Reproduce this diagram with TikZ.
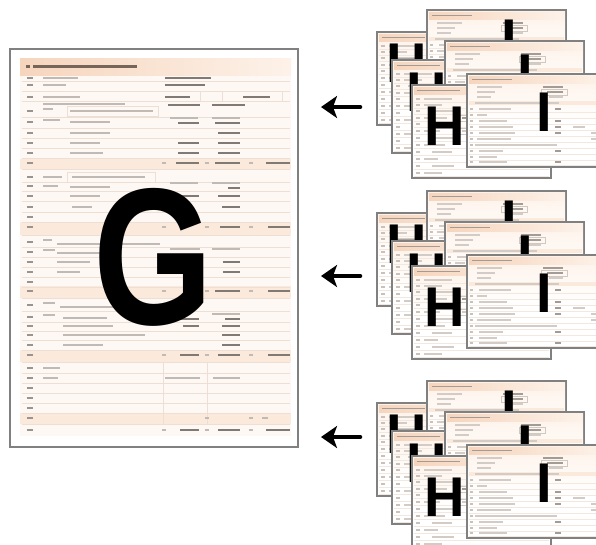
\documentclass[tikz,border=0pt]{standalone}
\usepackage{fontspec}
\setmainfont{Liberation Sans}
\usetikzlibrary{arrows.meta}

\definecolor{pageedge}{HTML}{808080}
\definecolor{peach}{HTML}{F6D5BD}
\definecolor{peachlt}{HTML}{FDF2E9}
\definecolor{peachband}{HTML}{FBEADB}
\definecolor{cream}{HTML}{FDF8F3}
\definecolor{rowline}{HTML}{EDDFD3}
\definecolor{txtlt}{HTML}{C0B9B4}
\definecolor{txtdk}{HTML}{807974}
\definecolor{titledk}{HTML}{76665A}
\definecolor{smtxt}{HTML}{D2CBC6}
\definecolor{smdark}{HTML}{A39B95}
\definecolor{smrule}{HTML}{F3E8DF}

% thin text strokes standing in for the blurred form print
\newcommand\txtbar[3]{\draw[txt] (#1,#3) -- (#2,#3);}
\newcommand\valbar[3]{\draw[val] (#1,#3) -- (#2,#3);}
\newcommand\hdrbar[3]{\draw[hdr] (#1,#3) -- (#2,#3);}

\begin{document}
\begin{tikzpicture}[x=1pt,y=-1pt,
  txt/.style={txtlt,line width=2pt},
  val/.style={txtdk,line width=2.4pt},
  hdr/.style={txtlt,line width=1.2pt},
  rowrule/.style={rowline,line width=0.6pt},
  frame/.style={draw=pageedge,line width=1.4pt,fill=white},
  stxt/.style={smtxt,line width=1.2pt},
  sdark/.style={smdark,line width=1.3pt},
  snum/.style={smtxt!80!smdark,line width=1.1pt},
  srule/.style={smrule,line width=0.5pt},
  sbox/.style={draw=smrule!70!gray,line width=0.4pt},
  bigletter/.style={font=\bfseries\fontsize{56}{56}\selectfont,inner sep=0pt,text=black},
  bigarrow/.style={line width=4.6pt,line cap=round,-{Stealth[length=16pt,width=22pt,inset=4pt]}},
  % small form page of the left-hand kind
  hpage/.pic={
    \filldraw[frame] (0,0) rectangle (139,93);
    \shade[top color=peachlt,bottom color=white] (1,1) rectangle (138,50);
    \shade[left color=peach,right color=peachlt] (2,2) rectangle (137,9);
    \draw[sdark] (5,5.5) -- (48,5.5);
    \foreach \yy/\a/\b in {14/12/40,20/12/30,26/16/45,33/12/35,39/20/38,46/12/28,
                           53/20/45,60/12/33,67/20/40,74/12/26,81/20/42,88/12/30}{
      \draw[snum] (4,\yy) -- (8,\yy);
      \draw[stxt] (\a,\yy) -- (\b,\yy);
      \draw[srule] (2,{\yy+3.2}) -- (137,{\yy+3.2});
    }
    \draw[sbox] (44,30) rectangle (72,36);
    \draw[sbox] (44,43) rectangle (72,49);
    \draw[sdark] (50,33) -- (66,33);
    \draw[stxt] (50,46) -- (62,46);
    \draw[stxt] (100,20) -- (118,20);
    \draw[stxt] (100,53) -- (120,53);
  },
  % small form page of the right-hand kind
  ipage/.pic={
    \filldraw[frame] (0,0) rectangle (139,93);
    \shade[top color=peachlt,bottom color=white] (1,1) rectangle (138,50);
    \shade[left color=peach,right color=peachlt] (2,2) rectangle (137,9);
    \draw[sdark] (5,5.5) -- (45,5.5);
    \draw[stxt] (10,13) -- (35,13);
    \draw[sdark] (76,13) -- (96,13);
    \draw[stxt] (10,18) -- (28,18);
    \draw[sbox] (74,15.5) rectangle (100,21);
    \draw[sdark] (80,18) -- (96,18);
    \draw[stxt] (10,23) -- (24,23);
    \draw[stxt] (82,23) -- (96,23);
    \fill[peachband] (2,26.5) rectangle (137,31);
    \draw[stxt] (8,29) -- (92,29);
    \foreach \yy/\a/\b/\v in {35/12/44/1,41/10/20/0,47/12/40/1,53/12/46/1,
                              59/12/48/1,65/10/44/0,71/8/90/0,77/12/36/1,
                              83/12/30/0,88/12/40/1}{
      \draw[snum] (3,\yy) -- (6,\yy);
      \draw[stxt] (\a,\yy) -- (\b,\yy);
      \ifnum\v=1 \draw[sdark] (88,\yy) -- (94,\yy); \fi
      \draw[srule] (2,{\yy+3}) -- (137,{\yy+3});
    }
    \draw[stxt] (106,53) -- (118,53);
    \draw[stxt] (124,59) -- (134,59);
    \draw[stxt] (124,65) -- (134,65);
  },
  % one stack of six overlapping form pages
  stack/.pic={
    \pic at (377,32) {hpage};
    \node[bigletter] (-hA) at (406.5,63) {H};
    \pic at (427,10) {ipage};
    \node[bigletter] (-iB) at (509,39.5) {I};
    \pic at (392,60) {hpage};
    \node[bigletter] (-hC) at (426.5,92) {H};
    \pic at (445,41) {ipage};
    \node[bigletter] (-iD) at (525,74.5) {I};
    \pic at (412,85) {hpage};
    \node[bigletter] (-hE) at (445,126) {H};
    \pic at (467,74) {ipage};
    \node[bigletter] (-iF) at (544,112.5) {I};
  }
]
\useasboundingbox (0,0) rectangle (596,544);
\clip (0,0) rectangle (596,544);
\fill[white] (0,0) rectangle (596,544);

% ---------------- large summary page ----------------
\filldraw[frame,line width=1.5pt] (10,49) rectangle (298,447);
\fill[cream] (20,58) rectangle (291,436);
\shade[left color=peach,right color=peachlt] (20,58) rectangle (291,75);
\draw[titledk,line width=3pt] (26,66) -- (29.5,66);
\draw[titledk,line width=3pt] (33,66) -- (137,66);

% sum-row bands
\foreach \ya/\yb in {158.5/169,222/235,286/298,350/362,413/424}
  \fill[peachband] (20,\ya) rectangle (291,\yb);

% row rules
\foreach \yy in {81.5,91,101,117,128,138,148,158.5,169,182,191,201,212,222,235,
                 247,257,267,277,287,298,311,322,331,340,350,362,373,383,393,403,413,424}
  \draw[rowrule] (22,\yy) -- (290,\yy);
\draw[rowrule] (163,363) -- (163,424);
\draw[rowrule] (207,363) -- (207,424);

% row numbers
\foreach \yy in {78,85,97,111,122,133,143,153,163,177,186,196,207,217,227,242,252,262,
                 272,282,291,305,317,326,335,345,355,368,378,388,398,408,418,430}
  \draw[txtdk!80,line width=2pt] (27,\yy) -- (33,\yy);

% header block
\txtbar{43}{78}{78}  \valbar{165}{211}{78}
\txtbar{43}{66}{85}  \valbar{165}{205}{85}
\txtbar{43}{80}{97}  \valbar{165}{190}{97}
\draw[rowrule] (200,92) -- (200,102);
\draw[rowrule] (222,92) -- (222,102);
\draw[rowrule] (282,92) -- (282,102);
\valbar{243}{270}{97}
\hdrbar{43}{125}{104}
\valbar{168}{200}{105}  \valbar{212}{245}{105}

% first section
\txtbar{43}{53}{109}
\draw[rowrule] (67,106) rectangle (158,116);
\txtbar{70}{153}{111}
\txtbar{43}{60}{120}  \txtbar{70}{110}{122}
\hdrbar{170}{198}{118} \hdrbar{212}{240}{118}
\valbar{178}{199}{123} \valbar{215}{240}{123}
\txtbar{70}{110}{133} \valbar{218}{240}{133}
\txtbar{70}{100}{143} \valbar{178}{199}{143} \valbar{218}{240}{143}
\txtbar{70}{103}{153} \valbar{178}{199}{153} \valbar{218}{240}{153}
\txtbar{162}{166}{163} \valbar{176}{199}{163} \txtbar{205}{209}{163}
\valbar{215}{240}{163} \txtbar{249}{253}{163} \valbar{266}{290}{163}

% second section
\txtbar{43}{62}{177}
\draw[rowrule] (67,172) rectangle (155,182);
\txtbar{72}{145}{177}
\txtbar{43}{58}{186}  \txtbar{70}{110}{187}
\hdrbar{170}{198}{183} \hdrbar{212}{240}{183}
\valbar{228}{240}{188}
\txtbar{70}{100}{196} \valbar{180}{199}{196} \valbar{218}{240}{196}
\txtbar{72}{92}{207}  \valbar{222}{240}{207}
\txtbar{162}{166}{227} \txtbar{205}{209}{227} \valbar{220}{240}{227}
\txtbar{249}{253}{227} \valbar{268}{290}{227}

% third section
\txtbar{43}{52}{240}  \txtbar{57}{160}{244}
\txtbar{43}{55}{250}  \txtbar{57}{100}{253}
\hdrbar{170}{200}{249} \hdrbar{212}{240}{249}
\txtbar{57}{90}{262}  \valbar{223}{240}{262}
\txtbar{57}{80}{272}  \valbar{223}{240}{272}
\txtbar{162}{166}{291} \txtbar{205}{209}{291} \valbar{215}{240}{291}
\txtbar{249}{253}{291} \valbar{268}{290}{291}

% fourth section
\txtbar{43}{55}{303}  \txtbar{60}{155}{307}
\txtbar{43}{55}{315}  \txtbar{63}{107}{318}
\hdrbar{212}{240}{314}
\valbar{180}{199}{319} \valbar{225}{240}{319}
\txtbar{63}{113}{326} \valbar{183}{199}{326} \valbar{222}{240}{326}
\txtbar{63}{145}{335} \valbar{222}{240}{335}
\txtbar{63}{103}{345} \valbar{222}{240}{345}
\txtbar{162}{166}{355} \valbar{180}{199}{355} \txtbar{205}{209}{355}
\valbar{218}{240}{355} \txtbar{249}{253}{355} \valbar{268}{290}{355}

% closing section
\txtbar{43}{60}{368}
\txtbar{43}{58}{378}  \hdrbar{165}{200}{378} \hdrbar{213}{240}{378}
\hdrbar{205}{209}{418} \hdrbar{249}{253}{418} \hdrbar{262}{268}{418}
\txtbar{162}{166}{430} \valbar{180}{199}{430} \txtbar{205}{209}{430}
\valbar{218}{240}{430} \txtbar{249}{253}{430} \valbar{266}{290}{430}

\node[font=\bfseries\fontsize{195}{195}\selectfont,inner sep=0pt,text=black,
      xscale=0.79,transform shape] (gletter) at (153.5,257.5) {G};

% ---------------- stacks of form pages ----------------
\pic (s1) at (0,0) {stack};
\pic (s2) at (0,181) {stack};
\pic (s3) at (0,371) {stack};

% ---------------- arrows towards the summary page ----------------
\coordinate (a1tail) at (360,107);
\coordinate (a1tip)  at (321,107);
\coordinate (a2tail) at (360,276);
\coordinate (a2tip)  at (321,276);
\coordinate (a3tail) at (360,437);
\coordinate (a3tip)  at (321,437);
\draw[bigarrow] (a1tail) -- (a1tip);
\draw[bigarrow] (a2tail) -- (a2tip);
\draw[bigarrow] (a3tail) -- (a3tip);
\end{tikzpicture}
\end{document}
